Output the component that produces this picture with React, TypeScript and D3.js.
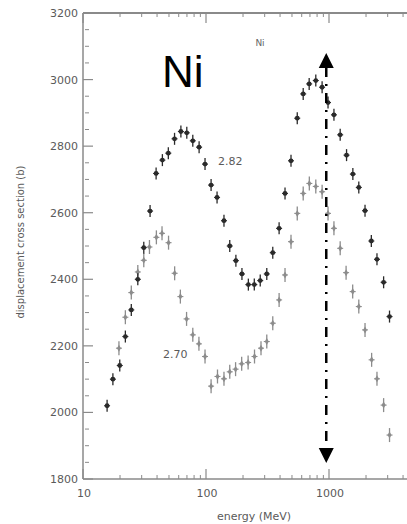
import React from "react";
import * as d3 from "d3";

// Series A (upper, label 2.82): energy (MeV), cross section (b)
const energyA = [15.7, 17.5, 19.9, 22.1, 24.7, 27.9, 31.2, 35.1, 39.3, 44.2, 49.4, 55.5, 62.5, 69.8, 78.1, 87.9, 98.2, 110, 123, 140, 156, 175, 196, 221, 247, 276, 312, 349, 393, 439, 491, 552, 617, 690, 781, 879, 982, 1097, 1233, 1389, 1563, 1747, 1963, 2209, 2455, 2780, 3105];
const sigmaA = [2020, 2100, 2141, 2228, 2308, 2400, 2495, 2605, 2718, 2758, 2779, 2822, 2844, 2840, 2816, 2797, 2746, 2683, 2646, 2576, 2500, 2456, 2416, 2384, 2384, 2396, 2416, 2480, 2553, 2658, 2756, 2884, 2957, 2987, 2997, 2977, 2931, 2894, 2834, 2773, 2716, 2676, 2606, 2515, 2460, 2391, 2288];

// Series B (lower, label 2.70)
const energyB = [19.6, 22.1, 24.7, 27.9, 31.2, 34.7, 39.5, 43.9, 49.6, 55.6, 61.9, 69.5, 78.1, 87.6, 98.2, 110, 124, 140, 156, 174, 195, 220, 248, 280, 312, 349, 393, 439, 491, 552, 617, 692, 781, 879, 982, 1097, 1233, 1377, 1558, 1747, 1963, 2221, 2455, 2780, 3105];
const sigmaB = [2193, 2286, 2360, 2422, 2457, 2497, 2526, 2538, 2510, 2418, 2348, 2281, 2233, 2206, 2168, 2079, 2108, 2101, 2122, 2130, 2146, 2150, 2168, 2193, 2213, 2268, 2338, 2413, 2513, 2598, 2658, 2688, 2679, 2663, 2598, 2553, 2493, 2420, 2363, 2318, 2248, 2158, 2101, 2022, 1932];

const yTicks = [1800, 2000, 2200, 2400, 2600, 2800, 3000, 3200];
const xTickLabels = [10, 100, 1000];
const arrowEnergy = 950;
const arrowSigma = [3080, 1848];

const W = 407;
const H = 524;

export default function App() {
  const x = d3.scaleLog().domain([10, 10000]).range([83, 452]);
  const y = d3.scaleLinear().domain([1800, 3200]).range([479, 13]);
  const x0 = 83, x1 = 452, yTop = 13, yBot = 479;

  const minorX: number[] = [];
  for (let dec = 10; dec < 10000; dec *= 10) {
    for (let m = 2; m <= 9; m++) minorX.push(dec * m);
  }
  const minorY = d3.range(1800, 3201, 50).filter((v) => v % 200 !== 0);
  const font = "DejaVu Sans, Arial, sans-serif";
  const axisCol = "#8a8a8a";
  const textCol = "#5a5a5a";

  const marker = (cx: number, cy: number, col: string, key: string, light: boolean) => (
    <g key={key}>
      <line x1={cx} x2={cx} y1={cy - (light ? 7 : 6)} y2={cy + (light ? 7 : 6)} stroke={col} strokeWidth={1.3} />
      <line x1={cx - 3} x2={cx + 3} y1={cy} y2={cy} stroke={col} strokeWidth={1.1} />
      {light ? (
        <path d={`M${cx},${cy - 3.5} L${cx + 2},${cy} L${cx},${cy + 3.5} L${cx - 2},${cy} Z`} fill={col} />
      ) : (
        <circle cx={cx} cy={cy} r={2.4} fill={col} />
      )}
    </g>
  );

  const ax = x(arrowEnergy);
  const ayTop = y(arrowSigma[0]);
  const ayBot = y(arrowSigma[1]);

  return (
    <div style={{ position: "fixed", left: 0, top: 0, width: W, height: H, background: "#fff" }}>
      <svg width={W} height={H} style={{ display: "block" }}>
        <rect width={W} height={H} fill="#fff" />
        {/* axes frame */}
        <line x1={x0} x2={x1} y1={yTop} y2={yTop} stroke={axisCol} strokeWidth={2} />
        <line x1={x0} x2={x1} y1={yBot} y2={yBot} stroke={axisCol} strokeWidth={1.5} />
        <line x1={x0} x2={x0} y1={yTop} y2={yBot} stroke={axisCol} strokeWidth={1.5} />
        {/* y ticks */}
        {yTicks.map((t) => (
          <g key={"yt" + t}>
            <line x1={x0} x2={x0 + 10} y1={y(t)} y2={y(t)} stroke={axisCol} strokeWidth={1.2} />
            <text x={78} y={y(t) + 4} textAnchor="end" fontSize={11} fontFamily={font} fill={textCol}>{t}</text>
          </g>
        ))}
        {minorY.map((t) => (
          <line key={"ym" + t} x1={x0 + 2} x2={x0 + 6} y1={y(t)} y2={y(t)} stroke={axisCol} strokeWidth={1} />
        ))}
        {/* x ticks */}
        {xTickLabels.map((t) => (
          <g key={"xt" + t}>
            <line x1={x(t)} x2={x(t)} y1={yBot} y2={yBot - 10} stroke={axisCol} strokeWidth={1.2} />
            <line x1={x(t)} x2={x(t)} y1={yTop} y2={yTop + 10} stroke={axisCol} strokeWidth={1.2} />
            <text x={x(t) + 1} y={497} textAnchor="middle" fontSize={11} fontFamily={font} fill={textCol}>{t}</text>
          </g>
        ))}
        {minorX.map((t) => (
          <g key={"xm" + t}>
            <line x1={x(t)} x2={x(t)} y1={yBot} y2={yBot - 4} stroke={axisCol} strokeWidth={1} />
            <line x1={x(t)} x2={x(t)} y1={yTop} y2={yTop + 4} stroke={axisCol} strokeWidth={1} />
          </g>
        ))}
        <text x={254} y={520} textAnchor="middle" fontSize={11} fontFamily={font} fill={textCol}>energy (MeV)</text>
        <text transform="translate(24,242) rotate(-90)" textAnchor="middle" fontSize={10} fontFamily={font} fill={textCol}>displacement cross section (b)</text>
        <text x={260} y={46} textAnchor="middle" fontSize={9} fontFamily={font} fill="#666666">Ni</text>
        <text x={162} y={87} fontSize={44} fontFamily="Liberation Sans, Arial, sans-serif" fill="#000">Ni</text>
        <text x={218} y={165} fontSize={11} fontFamily={font} fill={textCol}>2.82</text>
        <text x={163} y={358} fontSize={11} fontFamily={font} fill={textCol}>2.70</text>
        {/* series B (light) */}
        {energyB.map((e, i) => marker(x(e), y(sigmaB[i]), "#8c8c8c", "b" + i, true))}
        {/* series A (dark) */}
        {energyA.map((e, i) => marker(x(e), y(sigmaA[i]), "#2a2a2a", "a" + i, false))}
        {/* arrow */}
        <line x1={ax} x2={ax} y1={ayTop + 14} y2={ayBot - 14} stroke="#000" strokeWidth={2.5} strokeDasharray="10,7,2,7" />
        <path d={`M${ax},${ayTop} L${ax + 7.5},${ayTop + 15} L${ax - 7.5},${ayTop + 15} Z`} fill="#000" />
        <path d={`M${ax},${ayBot} L${ax + 7.5},${ayBot - 15} L${ax - 7.5},${ayBot - 15} Z`} fill="#000" />
      </svg>
    </div>
  );
}
